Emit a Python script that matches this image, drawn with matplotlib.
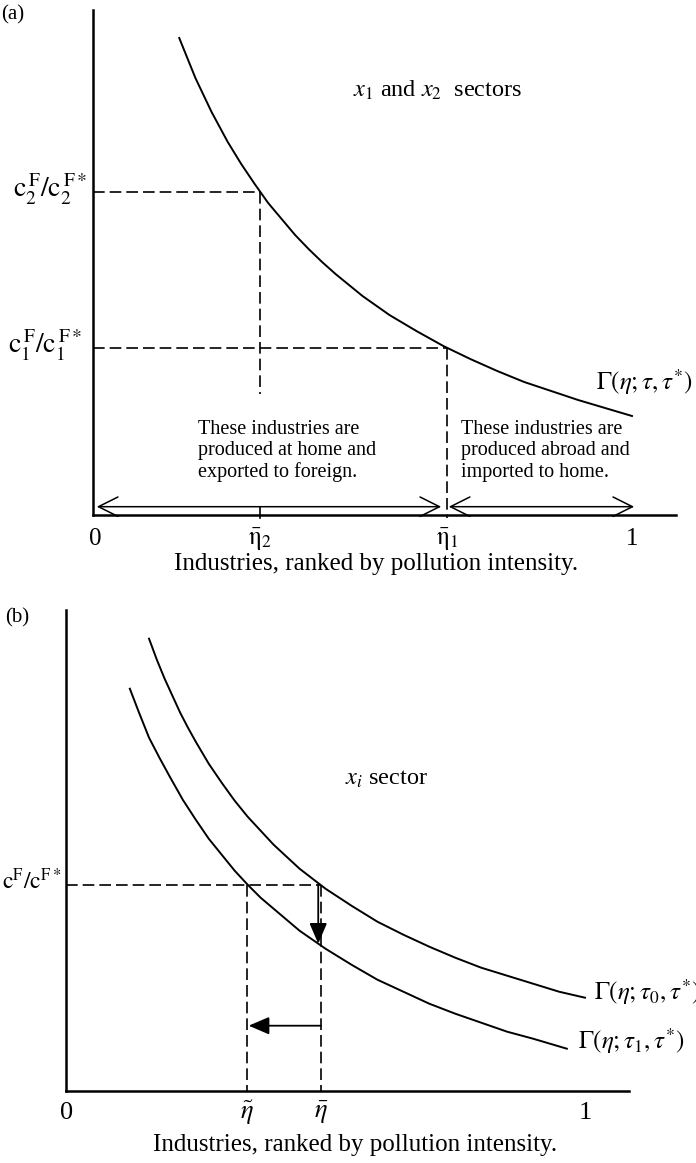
import numpy as np
import matplotlib
matplotlib.use('Agg')
import matplotlib.pyplot as plt

plt.rcParams['font.family'] = 'serif'
plt.rcParams['font.serif'] = ['Liberation Serif', 'DejaVu Serif']
plt.rcParams['mathtext.fontset'] = 'stix'

#=============== data ===============
# panel (a): one cost-ratio curve
eta_a = [0.16, 0.175, 0.19, 0.205, 0.22, 0.235, 0.25, 0.275, 0.30, 0.325,
         0.35, 0.375, 0.40, 0.425, 0.45, 0.475, 0.50, 0.55, 0.60, 0.65,
         0.70, 0.75, 0.80, 0.85, 0.90, 0.95, 1.00]
gamma_a = [4.77, 4.57, 4.37, 4.20, 4.03, 3.88, 3.73, 3.51, 3.31, 3.12,
           2.96, 2.80, 2.66, 2.53, 2.41, 2.30, 2.19, 2.00, 1.84, 1.69,
           1.56, 1.44, 1.33, 1.24, 1.15, 1.07, 0.99]
eta_bar2, eta_bar1 = 0.31, 0.657
c2_ratio, c1_ratio = 3.23, 1.67

# panel (b): curve before (tau0) and after (tau1) the tax change
eta_b0 = [0.16, 0.175, 0.19, 0.205, 0.22, 0.235, 0.25, 0.275, 0.30, 0.325,
          0.35, 0.375, 0.40, 0.425, 0.45, 0.475, 0.50, 0.55, 0.60, 0.65,
          0.70, 0.75, 0.80, 0.85, 0.90, 0.95, 1.00]
gamma_b0 = [4.52, 4.31, 4.12, 3.95, 3.78, 3.63, 3.49, 3.27, 3.08, 2.90,
            2.74, 2.60, 2.46, 2.34, 2.22, 2.12, 2.02, 1.85, 1.69, 1.56,
            1.44, 1.33, 1.23, 1.15, 1.07, 0.99, 0.93]
eta_b1 = [0.123, 0.14, 0.16, 0.18, 0.20, 0.225, 0.25, 0.275, 0.30, 0.325,
          0.35, 0.375, 0.40, 0.425, 0.45, 0.475, 0.50, 0.55, 0.60, 0.65,
          0.70, 0.75, 0.80, 0.85, 0.90, 0.965]
gamma_b1 = [4.02, 3.79, 3.53, 3.33, 3.14, 2.91, 2.71, 2.52, 2.36, 2.20,
            2.06, 1.93, 1.82, 1.71, 1.60, 1.51, 1.42, 1.26, 1.11, 0.99,
            0.87, 0.77, 0.68, 0.59, 0.52, 0.42]
eta_tilde, eta_bar = 0.348, 0.491
c_ratio = 2.06
gamma_b1_at_bar = 1.45
arrow_level = 0.65

xlabel = 'Industries, ranked by pollution intensity.'
dash = (0, (7, 3))
#==========================================================

fig = plt.figure(figsize=(6.96, 11.63), dpi=100)


def bare_axes(rect, xmax, ymax):
	ax = fig.add_axes(rect)
	ax.set_xlim(0, xmax)
	ax.set_ylim(0, ymax)
	for s in ['top', 'right']:
		ax.spines[s].set_visible(False)
	for s in ['left', 'bottom']:
		ax.spines[s].set_linewidth(1.8)
	ax.set_xticks([])
	ax.set_yticks([])
	ax.patch.set_alpha(0)
	return ax


#---------------- panel (a) ----------------
ax = bare_axes([93/696, 1-515/1163, 583/696, 505/1163], 583/539., 5.05)
ax.plot(eta_a, gamma_a, color='black', lw=1.4)

ax.plot([0, eta_bar2], [c2_ratio, c2_ratio], color='black', lw=1.2, ls=dash)
ax.plot([eta_bar2, eta_bar2], [c2_ratio, 1.21], color='black', lw=1.2, ls=dash)
ax.plot([eta_bar2, eta_bar2], [-0.03, 0.08], color='black', lw=1.2, clip_on=False)
ax.plot([0, eta_bar1], [c1_ratio, c1_ratio], color='black', lw=1.2, ls=dash)
ax.plot([eta_bar1, eta_bar1], [c1_ratio, -0.03], color='black', lw=1.2, ls=dash, clip_on=False)

ax.annotate('', xy=(0.646, 0.083), xytext=(0.007, 0.083),
	arrowprops=dict(arrowstyle='<->,head_length=0.7,head_width=0.35', lw=1.1,
	shrinkA=0, shrinkB=0, mutation_scale=20))
ax.annotate('', xy=(1.004, 0.083), xytext=(0.66, 0.083),
	arrowprops=dict(arrowstyle='<->,head_length=0.7,head_width=0.35', lw=1.1,
	shrinkA=0, shrinkB=0, mutation_scale=20))

ax.text(0.195, 0.64, 'These industries are\nproduced at home and\nexported to foreign.',
	fontsize=14.5, va='center', ha='left', linespacing=1.15)
ax.text(0.682, 0.64, 'These industries are\nproduced abroad and\nimported to home.',
	fontsize=14.5, va='center', ha='left', linespacing=1.15)

ax.text(0.482, 4.25, r'$x_{\mathit{1}}$ and $x_{\mathit{2}}$  sectors', fontsize=17.5,
	va='center', ha='left')
ax.text(0.933, 1.33, r'$\Gamma(\eta;\tau,\tau^{*})$', fontsize=18, va='center', ha='left')

ax.text(-0.011, c2_ratio-0.05, r'$\mathrm{c_2^{\,F}/c_2^{\,F*}}$', fontsize=20,
	va='baseline', ha='right')
ax.text(-0.02, c1_ratio-0.05, r'$\mathrm{c_1^{\,F}/c_1^{\,F*}}$', fontsize=20,
	va='baseline', ha='right')

for xv, lab in [(0.004, '0'), (eta_bar2, r'$\bar{\mathrm{\eta}}_2$'),
		(eta_bar1, r'$\bar{\mathrm{\eta}}_1$'), (1.0, '1')]:
	ax.text(xv, -0.245, lab, fontsize=18, ha='center', va='center')
ax.text(0.525, -0.49, xlabel, fontsize=18, ha='center', va='center')

fig.text(1/696, 1-15/1163, '(a)', fontsize=15, ha='left', va='center')

#---------------- panel (b) ----------------
ax = bare_axes([66/696, 1-1090.7/1163, 563/696, 480.7/1163], 563/519., 4.807)
ax.plot(eta_b0, gamma_b0, color='black', lw=1.4)
ax.plot(eta_b1, gamma_b1, color='black', lw=1.4)

ax.plot([0, eta_bar], [c_ratio, c_ratio], color='black', lw=1.2, ls=dash)
ax.plot([eta_tilde, eta_tilde], [c_ratio, 0], color='black', lw=1.2, ls=dash)
ax.plot([eta_bar, eta_bar], [c_ratio, 0], color='black', lw=1.2, ls=dash)

ax.annotate('', xy=(eta_bar-0.005, gamma_b1_at_bar+0.02), xytext=(eta_bar-0.005, c_ratio),
	arrowprops=dict(arrowstyle='-|>,head_length=0.7,head_width=0.3', lw=1.3,
	color='black', shrinkA=0, shrinkB=0, mutation_scale=18))
ax.annotate('', xy=(eta_tilde+0.004, arrow_level), xytext=(eta_bar, arrow_level),
	arrowprops=dict(arrowstyle='-|>,head_length=0.7,head_width=0.3', lw=1.3,
	color='black', shrinkA=0, shrinkB=0, mutation_scale=18))

ax.text(0.538, 3.11, r'$x_i$ sector', fontsize=17.5, va='center', ha='left')
ax.text(1.017, 0.99, r'$\Gamma(\eta;\tau_0,\tau^{*})$', fontsize=18, va='center', ha='left')
ax.text(0.986, 0.50, r'$\Gamma(\eta;\tau_1,\tau^{*})$', fontsize=18, va='center', ha='left')

ax.text(-0.008, c_ratio-0.05, r'$\mathrm{c^{F}/c^{F*}}$', fontsize=17,
	va='baseline', ha='right')

for xv, lab in [(0.002, '0'), (eta_tilde, r'$\tilde{\eta}$'),
		(eta_bar, r'$\bar{\eta}$'), (1.0, '1')]:
	ax.text(xv, -0.22, lab, fontsize=19, ha='center', va='center')
ax.text(0.557, -0.54, xlabel, fontsize=18, ha='center', va='center')

fig.text(5/696, 1-618/1163, '(b)', fontsize=15, ha='left', va='center')

fig.savefig('out.png', dpi=100)
